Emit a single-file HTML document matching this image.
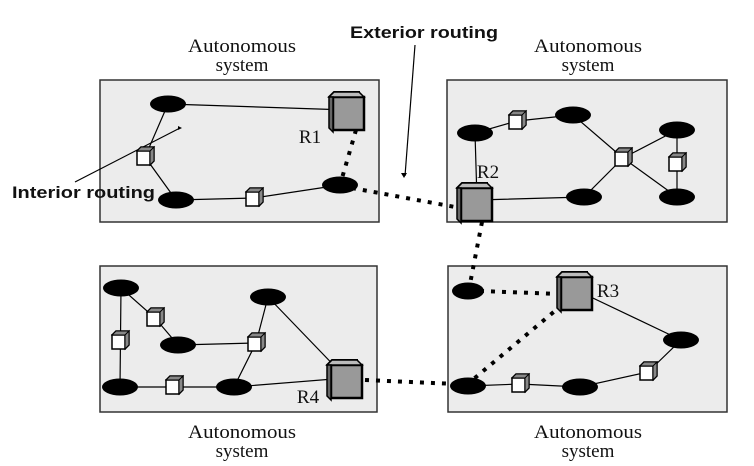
<!DOCTYPE html><html><head><style>body{margin:0;background:#fff}svg{display:block}</style></head><body>
<svg width="754" height="466" xmlns="http://www.w3.org/2000/svg" font-family="Liberation Serif, serif">
<defs>
<g id="sc"><path d="M-8,-6 l4,-4 h13 v14 l-4,4z" fill="#555" stroke="#000" stroke-width="1.5"/><rect x="-8" y="-6" width="13" height="14" fill="#fff" stroke="#000" stroke-width="1.5"/><path d="M-8,-6 l4,-4 h13 l-4,4z M5,-6 l4,-4 v14 l-4,4z" fill="#888" stroke="#000"/></g>
<g id="bc"><path d="M-19,-15 l5,-5 h25 v31 l-5,5z" fill="#444" stroke="#000" stroke-width="2"/><rect x="-15" y="-15" width="31" height="33" fill="#999" stroke="#000" stroke-width="2.5"/><path d="M-19,-15 l5,-5 h25 l5,5 h-31z" fill="#bbb" stroke="#000" stroke-width="1.5"/><path d="M-19,-15 v31 l4,4 v-35z" fill="#666" stroke="#000" stroke-width="1.5"/></g>
</defs>
<g fill="#ececec" stroke="#333" stroke-width="1.5">
<rect x="100" y="80" width="279" height="142"/><rect x="447" y="80" width="280" height="142"/>
<rect x="100" y="266" width="277" height="146"/><rect x="448" y="266" width="279" height="146"/></g>
<g stroke="#000" stroke-width="1.2" fill="none">
<path d="M168,104 L348,110 M168,104 L145,157 L176,200 L254,198 L340,185"/>
<path d="M475,133 L517,121 L573,115 L623,158 L677,130 L677,197 M623,158 L677,197 M623,158 L584,197 L477,200 M475,133 L477,200"/>
<path d="M121,288 L120,387 L234,387 L346,378 L268,297 L256,343 L234,387 M121,288 L155,318 L178,345 L256,343"/>
<path d="M576,290 L681,340 L648,372 L580,387 L520,384 L468,386"/>
<path d="M75,182 L180,128" /><path d="M415,45 L405,176"/></g>
<g stroke="#000" stroke-width="4" stroke-dasharray="4,7" fill="none">
<path d="M356,130 L340,185 M352,188 L455,207 M482,222 L470,284 M480,291 L560,294 M562,305 L470,382 M365,380 L456,384"/></g>
<g fill="#000">
<ellipse cx="168" cy="104" rx="18" ry="8.5"/><ellipse cx="176" cy="200" rx="18" ry="8.5"/><ellipse cx="340" cy="185" rx="18" ry="8.5"/>
<ellipse cx="475" cy="133" rx="18" ry="8.5"/><ellipse cx="573" cy="115" rx="18" ry="8.5"/><ellipse cx="677" cy="130" rx="18" ry="8.5"/><ellipse cx="677" cy="197" rx="18" ry="8.5"/><ellipse cx="584" cy="197" rx="18" ry="8.5"/>
<ellipse cx="121" cy="288" rx="18" ry="8.5"/><ellipse cx="178" cy="345" rx="18" ry="8.5"/><ellipse cx="268" cy="297" rx="18" ry="8.5"/><ellipse cx="120" cy="387" rx="18" ry="8.5"/><ellipse cx="234" cy="387" rx="18" ry="8.5"/>
<ellipse cx="468" cy="291" rx="16" ry="8.5"/><ellipse cx="681" cy="340" rx="18" ry="8.5"/><ellipse cx="580" cy="387" rx="18" ry="8.5"/><ellipse cx="468" cy="386" rx="18" ry="8.5"/>
<path d="M178,126 l4,2 -4,2z"/><path d="M404,178 l-3,-5 h6z"/></g>
<use href="#sc" x="145" y="157"/><use href="#sc" x="254" y="198"/><use href="#sc" x="517" y="121"/><use href="#sc" x="623" y="158"/><use href="#sc" x="677" y="163"/>
<use href="#sc" x="155" y="318"/><use href="#sc" x="120" y="341"/><use href="#sc" x="256" y="343"/><use href="#sc" x="174" y="386"/>
<use href="#sc" x="648" y="372"/><use href="#sc" x="520" y="384"/>
<use href="#bc" x="348" y="112"/><use href="#bc" x="476" y="203"/><use href="#bc" x="576" y="292"/><use href="#bc" x="346" y="380"/>
<g font-size="19" fill="#111" text-anchor="middle">
<text x="242" y="52" textLength="108" lengthAdjust="spacingAndGlyphs">Autonomous</text><text x="242" y="71">system</text>
<text x="588" y="52" textLength="108" lengthAdjust="spacingAndGlyphs">Autonomous</text><text x="588" y="71">system</text>
<text x="242" y="438" textLength="108" lengthAdjust="spacingAndGlyphs">Autonomous</text><text x="242" y="457">system</text>
<text x="588" y="438" textLength="108" lengthAdjust="spacingAndGlyphs">Autonomous</text><text x="588" y="457">system</text>
<text x="310" y="143">R1</text><text x="488" y="178">R2</text><text x="608" y="297">R3</text><text x="308" y="403">R4</text></g>
<g font-family="Liberation Sans, sans-serif" font-weight="bold" font-size="17" fill="#111">
<text x="350" y="38" textLength="148" lengthAdjust="spacingAndGlyphs">Exterior routing</text><text x="12" y="198" textLength="143" lengthAdjust="spacingAndGlyphs">Interior routing</text></g>
</svg></body></html>
